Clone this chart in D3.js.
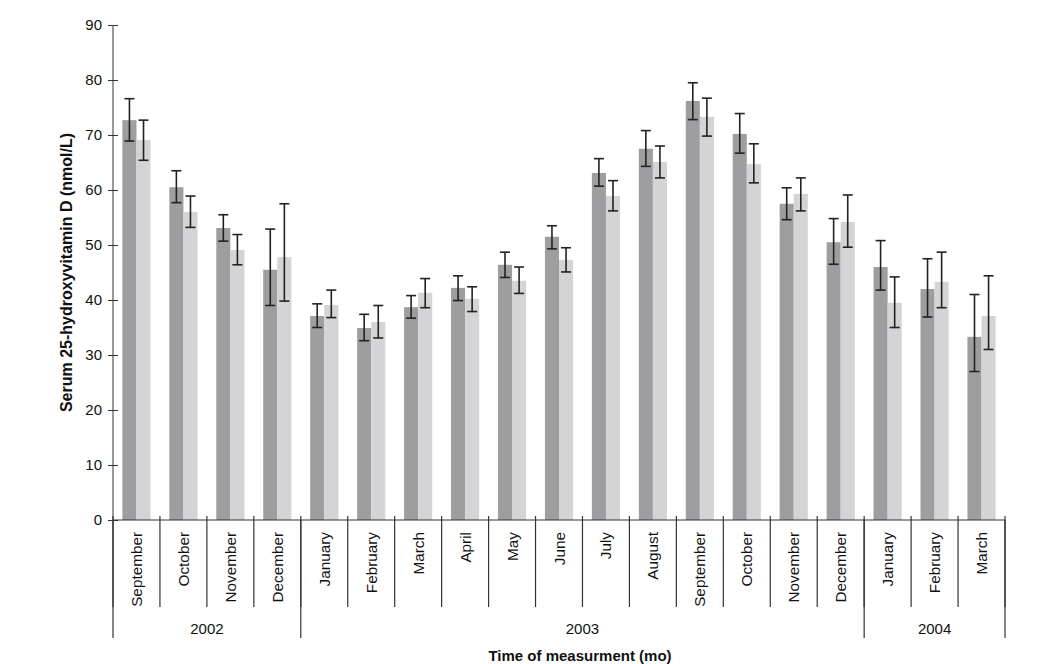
<!DOCTYPE html>
<html><head><meta charset="utf-8">
<script src="https://cdn.jsdelivr.net/npm/d3@7"></script>
<style>body{margin:0;background:#fff}text{font-family:"Liberation Sans",Arial,Helvetica,sans-serif}</style>
</head><body><svg id="c" width="1038" height="664"></svg>
<script>
const months = ["September","October","November","December","January","February","March","April","May","June","July","August","September","October","November","December","January","February","March"];
const years = [{label:"2002", n:4},{label:"2003", n:12},{label:"2004", n:3}];
const seriesA = [72.7,60.5,53.1,45.5,37.1,34.9,38.7,42.2,46.4,51.5,63.1,67.5,76.2,70.2,57.5,50.5,46.0,42.0,33.3];
const seriesAlo = [68.9,57.7,50.7,39.0,35.0,32.6,36.7,39.9,44.1,49.3,60.7,64.3,72.8,66.7,54.6,46.5,41.8,36.9,27.0];
const seriesAhi = [76.6,63.5,55.5,52.9,39.3,37.4,40.8,44.4,48.7,53.5,65.7,70.8,79.5,73.9,60.4,54.8,50.8,47.5,41.0];
const seriesB = [69.1,56.0,49.1,47.8,39.1,36.0,41.3,40.2,43.5,47.3,58.9,65.1,73.3,64.7,59.3,54.2,39.5,43.3,37.1];
const seriesBlo = [65.4,53.2,46.4,39.8,36.8,33.1,38.6,37.9,41.2,45.1,56.2,62.2,69.8,61.3,56.2,49.6,35.0,38.6,31.0];
const seriesBhi = [72.7,58.9,51.9,57.5,41.8,39.0,43.9,42.4,46.0,49.5,61.7,68.0,76.7,68.4,62.2,59.1,44.2,48.7,44.4];
const yTicks = [0,10,20,30,40,50,60,70,80,90];

const svg = d3.select("#c");
const L = 113, R = 1005, T = 25, B = 520;
const idx = months.map((m,i)=>i);
const x = d3.scaleBand().domain(idx).range([L,R]).padding(0);
const y = d3.scaleLinear().domain([0,90]).range([B,T]);
const bw = x.bandwidth();
const inner = d3.scaleBand().domain(["A","B"]).range([bw*0.2, bw*0.8]).padding(0);

const data = idx.map(i=>[
  {k:"A", v:seriesA[i], lo:seriesAlo[i], hi:seriesAhi[i], i},
  {k:"B", v:seriesB[i], lo:seriesBlo[i], hi:seriesBhi[i], i}
]).flat();
const color = {A:"#9d9ea0", B:"#d4d4d6"};

svg.append("g").selectAll("rect").data(data).join("rect")
  .attr("x", d=>x(d.i)+inner(d.k))
  .attr("width", inner.bandwidth())
  .attr("y", d=>y(d.v))
  .attr("height", d=>y(0)-y(d.v))
  .attr("fill", d=>color[d.k]);

const eb = svg.append("g").attr("stroke","#222").attr("stroke-width",1.6);
data.forEach(d=>{
  const cx = x(d.i)+inner(d.k)+inner.bandwidth()/2;
  eb.append("line").attr("x1",cx).attr("x2",cx).attr("y1",y(d.hi)).attr("y2",y(d.lo));
  eb.append("line").attr("x1",cx-5).attr("x2",cx+5).attr("y1",y(d.hi)).attr("y2",y(d.hi));
  eb.append("line").attr("x1",cx-5).attr("x2",cx+5).attr("y1",y(d.lo)).attr("y2",y(d.lo));
});

// y axis
const ya = svg.append("g").attr("transform",`translate(${L},0)`)
  .call(d3.axisLeft(y).tickValues(yTicks).tickSize(5).tickPadding(7));
ya.select(".domain").attr("stroke","#333").attr("d",`M0,${B}V${T}`);
ya.selectAll(".tick line").attr("x1",5).attr("x2",-5).attr("stroke","#333");
ya.selectAll(".tick text").attr("font-size",15).attr("fill","#111").attr("x",-11);

// x axis line
svg.append("line").attr("x1",L).attr("x2",R).attr("y1",B).attr("y2",B).attr("stroke","#333").attr("stroke-width",1.2);
// month boundary ticks
const bounds = idx.map(i=>x(i)).concat([R]);
svg.append("g").selectAll("line").data(bounds).join("line")
  .attr("x1",d=>d).attr("x2",d=>d).attr("y1",B-4).attr("y2",607)
  .attr("stroke","#333").attr("stroke-width",1.2);
// year boundaries
let acc = 0; const ybounds=[x(0)];
years.forEach(yr=>{ acc+=yr.n; ybounds.push(acc<months.length? x(acc): R); });
svg.append("g").selectAll("line").data(ybounds).join("line")
  .attr("x1",d=>d).attr("x2",d=>d).attr("y1",B).attr("y2",638)
  .attr("stroke","#333").attr("stroke-width",1.2);
// month labels
svg.append("g").selectAll("text").data(idx).join("text")
  .attr("transform",d=>`translate(${x(d)+bw/2},532) rotate(-90)`)
  .attr("text-anchor","end").attr("dominant-baseline","central")
  .attr("font-size",15.3).attr("fill","#111").text(d=>months[d]);
// year labels
svg.append("g").selectAll("text").data(years).join("text")
  .attr("x",(d,i)=>(ybounds[i]+ybounds[i+1])/2).attr("y",628)
  .attr("text-anchor","middle").attr("dominant-baseline","central")
  .attr("font-size",15).attr("fill","#111").text(d=>d.label);

// titles
svg.append("text").attr("x",580).attr("y",655).attr("text-anchor","middle").attr("dominant-baseline","central")
  .attr("font-size",15).attr("font-weight","bold").attr("fill","#111").text("Time of measurment (mo)");
svg.append("text").attr("transform",`translate(66,${(T+B)/2}) rotate(-90)`).attr("text-anchor","middle").attr("dominant-baseline","central")
  .attr("font-size",16).attr("font-weight","bold").attr("fill","#111").text("Serum 25-hydroxyvitamin D (nmol/L)");
</script></body></html>
